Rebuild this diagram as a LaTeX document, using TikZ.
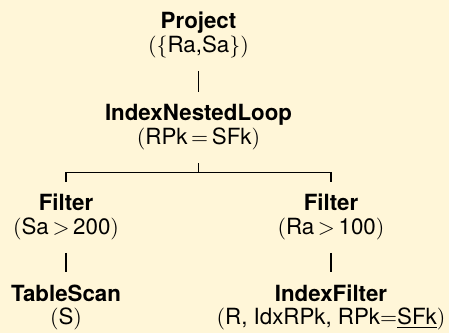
\documentclass[tikz,border=0pt]{standalone}
\usepackage{fontspec}
\setmainfont{TeX Gyre Heros}
\usetikzlibrary{positioning}
\definecolor{slidebg}{RGB}{255,246,216}

\begin{document}
\begin{tikzpicture}[op/.style = {align=center, inner sep=0pt, font=\fontsize{11.15pt}{11.75pt}\selectfont},
		link/.style = {line width=0.7pt, shorten <=6.5pt, shorten >=6pt},
		on grid]
		\fill[slidebg] (0,0) rectangle (224.5pt,166.5pt);
		\useasboundingbox (0,0) rectangle (224.5pt,166.5pt);
		\node[op] (project) at (99.25pt,149.1pt) {\textbf{Project}\\$(\{$Ra,Sa$\})$};
		\node[op] (inl) [below=46.25pt of project] {\textbf{IndexNestedLoop}\\$($RPk$\,=\,$SFk$)$};
		\node[op] (filterl) [below left=44.75pt and 66.25pt of inl] {\textbf{Filter}\\$($Sa$\,>\,$200$)$};
		\node[op] (filterr) [below right=44.75pt and 66.25pt of inl] {\textbf{Filter}\\$($Ra$\,>\,$100$)$};
		\node[op] (scan) [below=45.25pt of filterl] {\textbf{TableScan}\\$($S$)$};
		\node[op] (ixfilter) [below=45.25pt of filterr] {\textbf{IndexFilter}\\$($R, IdxRPk, RPk$=$\underline{SFk}$)$};
		\coordinate[below=11.2pt of inl.south] (split);
		\draw[link] (project) -- (inl);
		\draw[link, shorten >=0pt] (inl) -- (split);
		\draw[link, shorten <=0pt] (split) -| (filterl);
		\draw[link, shorten <=0pt] (split) -| (filterr);
		\draw[link] (filterl) -- (scan);
		\draw[link] (filterr) -- (ixfilter);
	\end{tikzpicture}
\end{document}
